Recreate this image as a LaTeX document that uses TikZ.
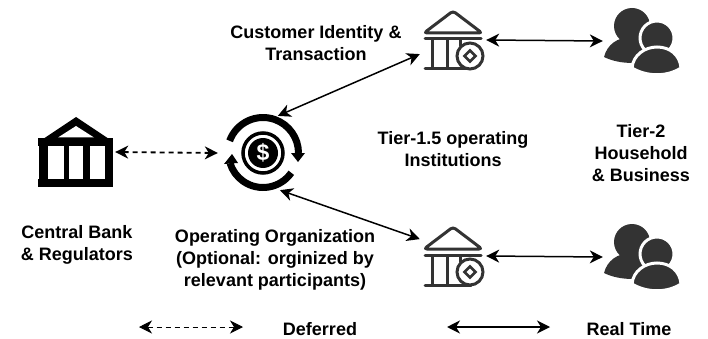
\documentclass[tikz,border=0pt]{standalone}
\usepackage{fontspec}
\setmainfont{Liberation Sans}
\usetikzlibrary{arrows.meta}
\definecolor{icongray}{HTML}{333333}
\tikzset{
  label text/.style={font=\fontsize{18}{22}\selectfont\bfseries,align=center},
  anchor box/.style={inner sep=0pt,minimum width=#1,minimum height=60pt},
  both tips/.style={{Stealth[length=13pt,width=13pt,inset=4pt]}-{Stealth[length=13pt,width=13pt,inset=4pt]}},
  realtime/.style={both tips,line width=1.5pt},
  deferred/.style={both tips,line width=1.8pt,dash pattern=on 5pt off 4pt},
  pics/bigbank/.style={code={
    \fill (0,-35)--(-33,-13)--(33,-13)--cycle;
    \fill[white] (0,-26)--(-18,-14.5)--(18,-14.5)--cycle;
    \fill (-38,-14) rectangle (37,-6);
    \fill (-37,-6) rectangle (-28,27);
    \fill (-12,-6) rectangle (-7,27);
    \fill (7,-6) rectangle (14,27);
    \fill (29,-6) rectangle (37,27);
    \fill (-38,27) rectangle (37,35);
  }},
  pics/smallbank/.style={code={
    \draw[icongray,line width=3pt,line join=round,rounded corners=3pt] (0,-29)--(-29,-7)--(29,-7)--cycle;
    \draw[icongray,line width=3pt,line cap=round] (-28,-1)--(28,-1);
    \draw[icongray,line width=3pt] (-21,-1)--(-21,28);
    \draw[icongray,line width=3pt] (-6,-1)--(-6,28);
    \draw[icongray,line width=3pt] (7,-1)--(7,6);
    \draw[icongray,line width=3pt,line cap=round] (-28,29)--(18,29);
    \draw[icongray,line width=3pt,fill=white] (17,16) circle (13pt);
    \draw[icongray,line width=2.5pt] (17,10.5)--(22.5,16)--(17,21.5)--(11.5,16)--cycle;
  }},
  pics/people/.style={code={
    \fill[icongray] (-10,-14) circle (18pt);
    \fill[icongray] (-38,17) .. controls (-35,5) and (-25,-3) .. (-10,-3) .. controls (0,-3) and (10,2) .. (12,10) .. controls (5,14) and (-8,20) .. (-9,23) .. controls (-20,23) and (-30,21) .. (-38,17);
    \filldraw[icongray,draw=white,line width=3pt] (15,-2) circle (17pt);
    \filldraw[icongray,draw=white,line width=3pt] (-10,28) .. controls (-9,15) and (3,7) .. (15,7) .. controls (28,7) and (38,15) .. (39,28) .. controls (25,37) and (5,37) .. (-10,28);
  }},
  pics/moneycycle/.style={code={
    \draw[line width=7pt] ([shift=(160:35.5pt)]0,0) arc[start angle=160,end angle=0,radius=35.5pt];
    \fill (28,0)--(42,0)--(35,9)--cycle;
    \draw[line width=7pt] ([shift=(-35:34.5pt)]0,0) arc[start angle=-35,end angle=-163,radius=34.5pt];
    \fill (-39,11)--(-25,10)--(-31,1)--cycle;
    \draw[line width=3.5pt] (0,0) circle (20pt);
    \fill (0,0) circle (15pt);
    \node[text=white,font=\fontsize{23}{23}\selectfont\bfseries] (dollar) at (0,0) {\$};
  }},
}
\begin{document}
\begin{tikzpicture}[x=1pt,y=-1pt]
\useasboundingbox (0,0) rectangle (708,339);

\pic at (76,152) {bigbank};
\pic at (263,153) {moneycycle};
\pic at (453,40) {smallbank};
\pic at (453,256) {smallbank};
\pic at (642,40) {people};
\pic at (642,256) {people};

\node [anchor box=78pt] (central) at (76,152) {};
\node [circle,inner sep=0pt,minimum size=90pt] (operator) at (263,153) {};
\node [anchor box=66pt] (banktop) at (453,40) {};
\node [anchor box=66pt] (bankbottom) at (453,256) {};
\node [anchor box=78pt] (peopletop) at (642,41) {};
\node [anchor box=78pt] (peoplebottom) at (642,257) {};

\draw[deferred] (central.east)--(operator.west);
\draw[realtime,shorten <=-7pt] (operator.62)--(banktop.203);
\draw[realtime,shorten <=-6pt] (operator.-60)--(bankbottom.153);
\draw[realtime] (banktop.east)--(peopletop.west);
\draw[realtime] (bankbottom.east)--(peoplebottom.west);

\coordinate (deferredleft) at (139,327);
\coordinate (deferredright) at (243,327);
\coordinate (realleft) at (447,327);
\coordinate (realright) at (550,327);
\draw[deferred,line width=1pt] (deferredleft)--(deferredright);
\draw[realtime] (realleft)--(realright);

\node [label text] (customer) at (316,43) {Customer Identity \&\\Transaction};
\node [label text] (tieronefive) at (453,149) {Tier-1.5 operating\\Institutions};
\node [label text] (tiertwo) at (641,153) {Tier-2\\Household\\\& Business};
\node [label text] (regulators) at (77,245) {Central Bank\\\& Regulators};
\node [label text] (organization) at (275,260) {Operating Organization\\(Optional: orginized by\\relevant participants)};
\node [label text] (deferredtext) at (320,329) {Deferred};
\node [label text] (realtext) at (629,329) {Real Time};
\end{tikzpicture}
\end{document}
